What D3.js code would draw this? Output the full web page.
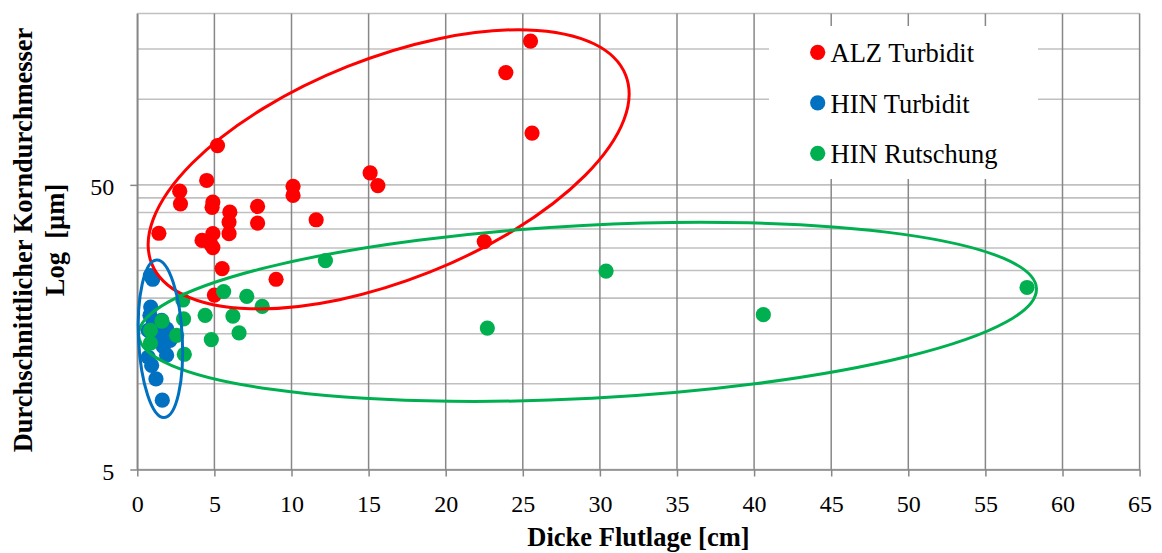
<!DOCTYPE html>
<html>
<head>
<meta charset="utf-8">
<script src="https://cdn.jsdelivr.net/npm/d3@7/dist/d3.min.js"></script>
<style>
  html, body { margin: 0; padding: 0; background: #fff; }
  svg { display: block; font-family: "Liberation Serif", "Times New Roman", serif; }
</style>
</head>
<body>
<svg id="chart" width="1162" height="553"></svg>
<script>
// Layer thickness [cm] vs. mean grain size [µm]
const seriesNames = ["ALZ Turbidit", "HIN Turbidit", "HIN Rutschung"];
const seriesColors = ["#FF0000", "#0070C0", "#00B050"];

const alzX = [25.5, 23.9, 25.6, 5.2, 4.5, 2.75, 10.1, 15.1, 15.6, 10.1, 2.8, 4.9, 4.85, 6.0, 5.95, 5.95, 7.8, 7.8, 11.6, 1.4, 4.2, 4.9, 4.75, 4.9, 22.5, 5.5, 9.0, 5.0];
const alzY = [160, 124, 76, 68.7, 51.8, 47.5, 49.4, 55.1, 49.7, 45.9, 42.9, 43.5, 41.7, 40.1, 37.0, 33.7, 42.0, 36.7, 37.7, 33.8, 31.9, 33.7, 31.0, 30.1, 31.6, 25.4, 23.3, 20.5];

const hinTurbX = [0.85, 1.0, 0.87, 0.82, 1.04, 1.58, 1.9, 0.71, 1.26, 2.12, 1.69, 1.9, 0.71, 0.93, 1.21, 1.62];
const hinTurbY = [24.0, 23.3, 18.6, 17.4, 16.5, 16.7, 15.6, 15.4, 14.8, 14.2, 13.5, 12.6, 12.4, 11.6, 10.4, 8.76];

const hinRutX = [12.2, 30.4, 57.7, 40.6, 22.7, 5.6, 7.1, 8.1, 2.95, 4.4, 6.2, 3.0, 6.6, 4.8, 2.55, 3.05, 1.6, 0.85, 0.85];
const hinRutY = [27.1, 24.9, 21.8, 17.5, 15.7, 21.1, 20.3, 18.7, 19.7, 17.4, 17.3, 16.9, 15.1, 14.3, 14.8, 12.7, 16.6, 15.4, 13.9];

// Axis ticks and gridlines
const xTicks = [0, 5, 10, 15, 20, 25, 30, 35, 40, 45, 50, 55, 60, 65];
const yTickLabels = [5, 50];
const yGridValues = [5, 10, 15, 20, 25, 30, 35, 40, 45, 50, 100, 150, 200];

// Group outlines: centre (cm, µm), semi-axes (cm along x, decades along y), rotation in degrees
const groupEllipses = [
  { series: 0, cx: 16.3, cy: 56.7, rxUnits: 16.54, ryDecades: 0.389, angle: -21.7 },
  { series: 2, cx: 29.2, cy: 17.9, rxUnits: 29.15, ryDecades: 0.304, angle: -3.0 },
  { series: 1, cx: 1.5,  cy: 14.4, rxUnits: 1.42,  ryDecades: 0.277, angle: -2.8 }
];

const svg = d3.select("#chart");
const plot = { left: 137.3, right: 1139.6, top: 13.5, bottom: 469.5 };

const x = d3.scaleLinear().domain([0, 65]).range([plot.left, plot.right]);
const y = d3.scaleLog().domain([5, 200]).range([plot.bottom, plot.top]);

// Horizontal gridlines (log scale, major + minor)
svg.append("g").selectAll("line").data(yGridValues).join("line")
  .attr("x1", plot.left).attr("x2", plot.right)
  .attr("y1", d => y(d)).attr("y2", d => y(d))
  .attr("stroke", "#C0C0C0").attr("stroke-width", 1.6);

// Vertical gridlines
svg.append("g").selectAll("line").data(xTicks).join("line")
  .attr("x1", d => x(d)).attr("x2", d => x(d))
  .attr("y1", plot.top).attr("y2", plot.bottom)
  .attr("stroke", "#878787").attr("stroke-width", 1.5);

// Axes
const xAxis = d3.axisBottom(x).tickValues(xTicks).tickSize(7).tickSizeOuter(0)
  .tickPadding(18).tickFormat(d3.format("d"));
const gx = svg.append("g").attr("transform", `translate(0,${plot.bottom})`).call(xAxis);
gx.select(".domain").attr("stroke", "#878787").attr("stroke-width", 1.5);
gx.selectAll(".tick line").attr("stroke", "#878787").attr("stroke-width", 1.5);
gx.selectAll(".tick text").attr("font-size", 24).attr("fill", "#000")
  .attr("font-family", "Liberation Serif, Times New Roman, serif");

const yAxis = d3.axisLeft(y).tickValues(yTickLabels).tickSize(7).tickSizeOuter(0)
  .tickPadding(16).tickFormat(d3.format("d"));
const gy = svg.append("g").attr("transform", `translate(${plot.left},0)`).call(yAxis);
gy.select(".domain").attr("stroke", "#878787").attr("stroke-width", 1.5);
gy.selectAll(".tick line").attr("stroke", "#878787").attr("stroke-width", 1.5);
gy.selectAll(".tick text").attr("font-size", 24).attr("fill", "#000").attr("dy", "0.4em")
  .attr("font-family", "Liberation Serif, Times New Roman, serif");

// Legend background
const legend = { x: 769, y: 26, w: 269, h: 153, x0: 817.7, y0: 52.3, step: 50.5 };
svg.append("rect").attr("x", legend.x).attr("y", legend.y)
  .attr("width", legend.w).attr("height", legend.h).attr("fill", "#fff");

// Points
const series = [
  d3.zip(alzX, alzY),
  d3.zip(hinTurbX, hinTurbY),
  d3.zip(hinRutX, hinRutY)
];
series.forEach((pts, i) => {
  svg.append("g").selectAll("circle").data(pts).join("circle")
    .attr("cx", d => x(d[0])).attr("cy", d => y(d[1]))
    .attr("r", 7.6).attr("fill", seriesColors[i]);
});

// Group outlines
groupEllipses.forEach(e => {
  const px = x(e.cx), py = y(e.cy);
  const rx = x(e.cx + e.rxUnits) - x(e.cx);
  const ry = y(e.cy) - y(e.cy * Math.pow(10, e.ryDecades));
  svg.append("ellipse")
    .attr("transform", `translate(${px},${py}) rotate(${e.angle})`)
    .attr("rx", rx).attr("ry", ry)
    .attr("fill", "none").attr("stroke", seriesColors[e.series]).attr("stroke-width", 3);
});

// Legend entries
const lg = svg.append("g");
seriesNames.forEach((name, i) => {
  const cy = legend.y0 + i * legend.step;
  lg.append("circle").attr("cx", legend.x0).attr("cy", cy).attr("r", 7.6).attr("fill", seriesColors[i]);
  lg.append("text").attr("x", 830.5).attr("y", cy + 10)
    .attr("font-size", 26.5).attr("fill", "#000").text(name);
});

// Axis titles
svg.append("text").attr("x", (plot.left + plot.right) / 2).attr("y", 546)
  .attr("text-anchor", "middle").attr("font-size", 26.5).attr("font-weight", "bold")
  .text("Dicke Flutlage [cm]");

const ty = 240;
svg.append("text").attr("transform", `translate(32,${ty}) rotate(-90)`)
  .attr("text-anchor", "middle").attr("font-size", 26.5).attr("font-weight", "bold")
  .text("Durchschnittlicher Korndurchmesser");
svg.append("text").attr("transform", `translate(64,${ty}) rotate(-90)`)
  .attr("text-anchor", "middle").attr("font-size", 26.5).attr("font-weight", "bold")
  .style("white-space", "pre")
  .text("Log  [µm]");
</script>
</body>
</html>
